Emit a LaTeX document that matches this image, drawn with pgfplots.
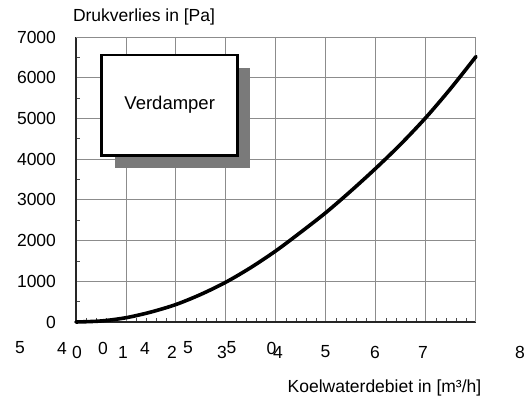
\documentclass[border=0pt]{standalone}
\usepackage{pgfplots}
\pgfplotsset{compat=1.18}
\usepackage{fontspec}
\setmainfont{Liberation Sans}
\tikzset{xlnode/.style={yshift=-30bp}, stray/.style={yshift=-26bp}}

\begin{document}
\begin{tikzpicture}
\fontsize{17.5bp}{21bp}\selectfont
\begin{axis}[
    at={(76bp,79bp)}, anchor=south west,
    scale only axis, width=400bp, height=285bp,
    xmin=0, xmax=8, ymin=0, ymax=7000,
    xtick={0,1,...,8}, xticklabels={},
    ytick={0,1000,...,7000},
    minor x tick num=4, minor y tick num=1,
    tick align=inside,
    major tick length=0pt, minor tick length=4bp,
    every minor tick/.style={black!70, line width=0.6bp},
    grid=major,
    major grid style={black!45, line width=1bp},
    axis x line*=bottom, axis y line*=left,
    axis line style={black!85, line width=1.2bp, -},
    scaled y ticks=false,
    yticklabel style={font=\fontsize{17.5bp}{21bp}\selectfont, xshift=-14bp},
    /pgf/number format/assume math mode=true,
    /pgf/number format/1000 sep={},
    clip=false,
]
% right and top frame in grid grey
\draw[black!45, line width=1bp] (rel axis cs:1,0) -- (rel axis cs:1,1) -- (rel axis cs:0,1);

\addplot[black, line width=3.6bp, smooth, line cap=round] coordinates {
(0,0) (0.5,25) (1,105) (1.5,245) (2,430) (2.5,680) (3,980) (3.5,1340)
(4,1750) (4.5,2210) (5,2690) (5.5,3220) (6,3780) (6.5,4375) (7,5025)
(7.5,5745) (8,6520)
};

% Verdamper box with shadow
\fill[black!52] (axis cs:0.78,3782) rectangle (axis cs:3.48,6239);
\draw[black, line width=2.6bp, fill=white] (axis cs:0.514,4085) rectangle (axis cs:3.234,6558);
\node[font=\fontsize{18.5bp}{22bp}\selectfont] at (axis cs:1.874,5330) {Verdamper};

% x tick labels (as in the scan)
\node[xlnode] at (axis cs:0.02,0) {0};
\node[xlnode] at (axis cs:0.94,0) {1};
\node[xlnode] at (axis cs:1.92,0) {2};
\node[xlnode] at (axis cs:2.92,0) {3};
\node[xlnode] at (axis cs:4.04,0) {4};
\node[xlnode] at (axis cs:4.99,0) {5};
\node[xlnode] at (axis cs:5.98,0) {6};
\node[xlnode] at (axis cs:6.94,0) {7};
\node[xlnode] at (axis cs:8.88,0) {8};
% overprinted stray digits
\node[stray] at (axis cs:-1.12,0) {5};
\node[stray] at (axis cs:-0.28,0) {4};
\node[stray] at (axis cs:0.54,0) {0};
\node[stray] at (axis cs:1.38,0) {4};
\node[stray] at (axis cs:2.24,0) {5};
\node[stray] at (axis cs:3.11,0) {5};
\node[stray] at (axis cs:3.91,0) {0};

\node[anchor=west] at (rel axis cs:0,1) [xshift=-9bp, yshift=20bp] {Drukverlies in [Pa]};
\node at (axis cs:6.17,0) [yshift=-66bp] {Koelwaterdebiet in [m³/h]};
\end{axis}
\pgfresetboundingbox
\path (0,0) rectangle (528bp,401bp);
\end{tikzpicture}
\end{document}
